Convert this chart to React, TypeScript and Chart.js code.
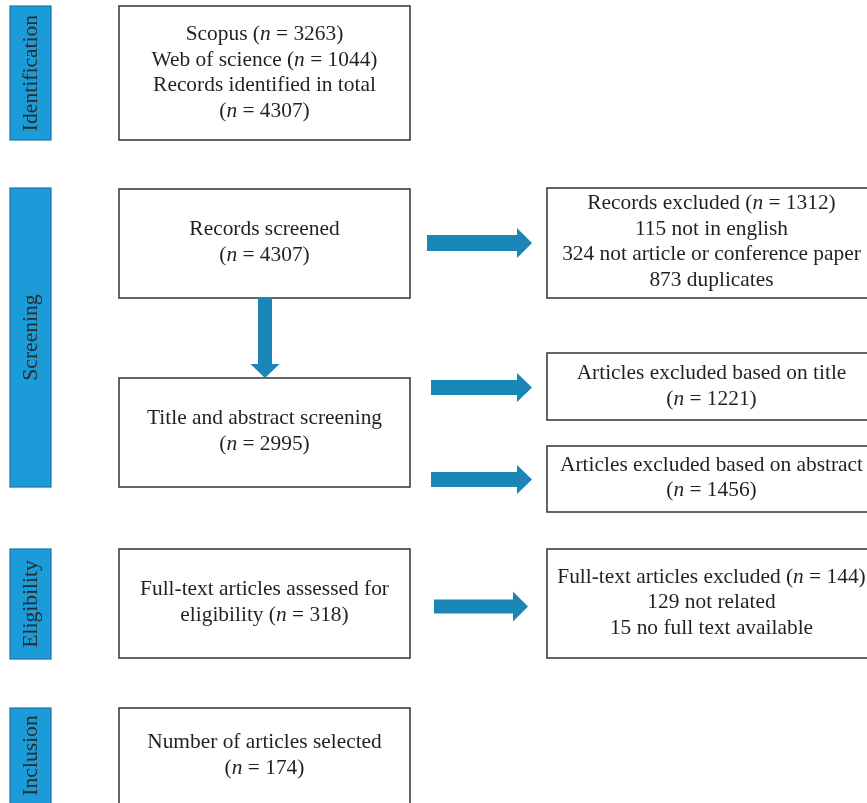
import React, { useEffect, useRef } from "react";
import { Chart, registerables } from "chart.js";
Chart.register(...registerables);

// ---- data ----
const stageLabels = ["Identification", "Screening", "Eligibility", "Inclusion"];
const sourceNames = ["Scopus", "Web of science"];
const sourceCounts = [3263, 1044];
const totalIdentified = 4307;
const screenedCount = 4307;
const excludedCount = 1312;
const excludedReasons = ["not in english", "not article or conference paper", "duplicates"];
const excludedReasonCounts = [115, 324, 873];
const titleAbstractCount = 2995;
const titleExcludedCount = 1221;
const abstractExcludedCount = 1456;
const fullTextCount = 318;
const fullTextExcludedCount = 144;
const fullTextReasons = ["not related", "no full text available"];
const fullTextReasonCounts = [129, 15];
const includedCount = 174;

// ---- layout (data units of a 0..867 x 0..803 canvas scale) ----
type Seg = { t: string; i?: boolean };
type Line = Seg[];
const plain = (t: string): Line => [{ t }];
const nLine = (prefix: string, v: number): Line => [
  { t: prefix + "(" },
  { t: "n", i: true },
  { t: " = " + v + ")" },
];

const stageRects = [
  [10, 51, 6, 140],
  [10, 51, 188, 487],
  [10, 51, 549, 659],
  [10, 51, 708, 810],
];

const boxes: { r: number[]; lines: Line[]; dy?: number }[] = [
  {
    r: [119, 410, 6, 140],
    lines: [
      nLine(sourceNames[0] + " ", sourceCounts[0]),
      nLine(sourceNames[1] + " ", sourceCounts[1]),
      plain("Records identified in total"),
      nLine("", totalIdentified),
    ],
    dy: 0,
  },
  { r: [119, 410, 189, 298], lines: [plain("Records screened"), nLine("", screenedCount)], dy: -1 },
  { r: [119, 410, 378, 487], lines: [plain("Title and abstract screening"), nLine("", titleAbstractCount)], dy: -1 },
  { r: [119, 410, 549, 658], lines: [plain("Full-text articles assessed for"), nLine("eligibility ", fullTextCount)], dy: -1 },
  { r: [119, 410, 708, 810], lines: [plain("Number of articles selected"), nLine("", includedCount)], dy: 0 },
  {
    r: [547, 876, 188, 298],
    lines: [
      nLine("Records excluded ", excludedCount),
      ...excludedReasons.map((s, k) => plain(excludedReasonCounts[k] + " " + s)),
    ],
    dy: -1,
  },
  { r: [547, 876, 353, 420], lines: [plain("Articles excluded based on title"), nLine("", titleExcludedCount)], dy: 0 },
  { r: [547, 876, 446, 512], lines: [plain("Articles excluded based on abstract"), nLine("", abstractExcludedCount)], dy: -1 },
  {
    r: [547, 876, 549, 658],
    lines: [
      nLine("Full-text articles excluded ", fullTextExcludedCount),
      ...fullTextReasons.map((s, k) => plain(fullTextReasonCounts[k] + " " + s)),
    ],
    dy: -1,
  },
];

// right arrows: x0, xHead, xTip, cy, shaftHalf, headHalf
const rightArrows = [
  [427, 517, 532, 243, 8, 15],
  [431, 517, 532, 387.5, 7.5, 14.5],
  [431, 517, 532, 479.5, 7.5, 14.5],
  [434, 513, 528, 606.5, 7, 15],
];
// down arrows: cx, y0, yHead, yTip, shaftHalf, headHalf
const downArrows = [[265, 297, 364, 378, 7, 14.5]];

const FONT = '"Liberation Serif", "DejaVu Serif", serif';
const FS = 21.4;
const SFS = 21.6;
const LH = 25.5;
const TEXT = "#231f20";

const flowPlugin = {
  id: "flow",
  afterDraw(chart: any) {
    const ctx: CanvasRenderingContext2D = chart.ctx;
    const xs = chart.scales.x;
    const ys = chart.scales.y;
    const X = (v: number) => xs.getPixelForValue(v);
    const Y = (v: number) => ys.getPixelForValue(v);
    ctx.save();

    // stage side bars
    stageRects.forEach((r, k) => {
      const x0 = X(r[0]), x1 = X(r[1]), y0 = Y(r[2]), y1 = Y(r[3]);
      ctx.fillStyle = "rgb(27,156,216)";
      ctx.fillRect(x0, y0, x1 - x0, y1 - y0);
      ctx.strokeStyle = "rgb(28,118,168)";
      ctx.lineWidth = 1.2;
      ctx.strokeRect(x0, y0, x1 - x0, y1 - y0);
      ctx.save();
      const cy = (y0 + Math.min(y1, Y(803))) / 2;
      ctx.translate((x0 + x1) / 2 + 1, cy);
      ctx.rotate(-Math.PI / 2);
      ctx.fillStyle = "#2a2a2a";
      ctx.font = `${SFS}px ${FONT}`;
      ctx.textAlign = "center";
      ctx.textBaseline = "middle";
      ctx.fillText(stageLabels[k], 0, 0);
      ctx.restore();
    });

    // boxes
    boxes.forEach((b) => {
      const x0 = X(b.r[0]), x1 = X(b.r[1]), y0 = Y(b.r[2]), y1 = Y(b.r[3]);
      ctx.fillStyle = "#ffffff";
      ctx.fillRect(x0, y0, x1 - x0, y1 - y0);
      ctx.strokeStyle = "#333333";
      ctx.lineWidth = 1.5;
      ctx.strokeRect(x0, y0, x1 - x0, y1 - y0);
      const cx = (x0 + x1) / 2;
      const yb = Math.min(y1, Y(803));
      const cy = (y0 + yb) / 2 + (b.dy || 0);
      const n = b.lines.length;
      b.lines.forEach((line, li) => {
        const ly = cy + (li - (n - 1) / 2) * LH;
        let total = 0;
        const widths = line.map((s) => {
          ctx.font = `${s.i ? "italic " : ""}${FS}px ${FONT}`;
          const w = ctx.measureText(s.t).width;
          total += w;
          return w;
        });
        let x = cx - total / 2;
        ctx.fillStyle = TEXT;
        ctx.textAlign = "left";
        ctx.textBaseline = "middle";
        line.forEach((s, si) => {
          ctx.font = `${s.i ? "italic " : ""}${FS}px ${FONT}`;
          ctx.fillText(s.t, x, ly);
          x += widths[si];
        });
      });
    });

    // arrows
    ctx.fillStyle = "rgb(26,134,184)";
    rightArrows.forEach((a) => {
      const [x0, xh, xt, cy, sh, hh] = a;
      ctx.beginPath();
      ctx.moveTo(X(x0), Y(cy - sh));
      ctx.lineTo(X(xh), Y(cy - sh));
      ctx.lineTo(X(xh), Y(cy - hh));
      ctx.lineTo(X(xt), Y(cy));
      ctx.lineTo(X(xh), Y(cy + hh));
      ctx.lineTo(X(xh), Y(cy + sh));
      ctx.lineTo(X(x0), Y(cy + sh));
      ctx.closePath();
      ctx.fill();
    });
    downArrows.forEach((a) => {
      const [cx, y0, yh, yt, sh, hh] = a;
      ctx.beginPath();
      ctx.moveTo(X(cx - sh), Y(y0));
      ctx.lineTo(X(cx + sh), Y(y0));
      ctx.lineTo(X(cx + sh), Y(yh));
      ctx.lineTo(X(cx + hh), Y(yh));
      ctx.lineTo(X(cx), Y(yt));
      ctx.lineTo(X(cx - hh), Y(yh));
      ctx.lineTo(X(cx - sh), Y(yh));
      ctx.closePath();
      ctx.fill();
    });

    ctx.restore();
  },
};

export default function App() {
  const ref = useRef<HTMLCanvasElement | null>(null);
  useEffect(() => {
    if (!ref.current) return;
    const chart = new Chart(ref.current, {
      type: "scatter",
      data: { datasets: [{ data: [], pointRadius: 0 }] },
      options: {
        animation: false,
        responsive: false,
        maintainAspectRatio: false,
        layout: { padding: 0 },
        plugins: { legend: { display: false }, tooltip: { enabled: false }, title: { display: false } },
        scales: {
          x: { type: "linear", min: 0, max: 867, display: false },
          y: { type: "linear", min: 0, max: 803, reverse: true, display: false },
        },
      },
      plugins: [flowPlugin],
    });
    return () => chart.destroy();
  }, []);
  return (
    <div style={{ position: "absolute", left: 0, top: 0, width: 867, height: 803, background: "#fff" }}>
      <canvas ref={ref} width={867} height={803} style={{ width: 867, height: 803, display: "block" }} />
    </div>
  );
}
